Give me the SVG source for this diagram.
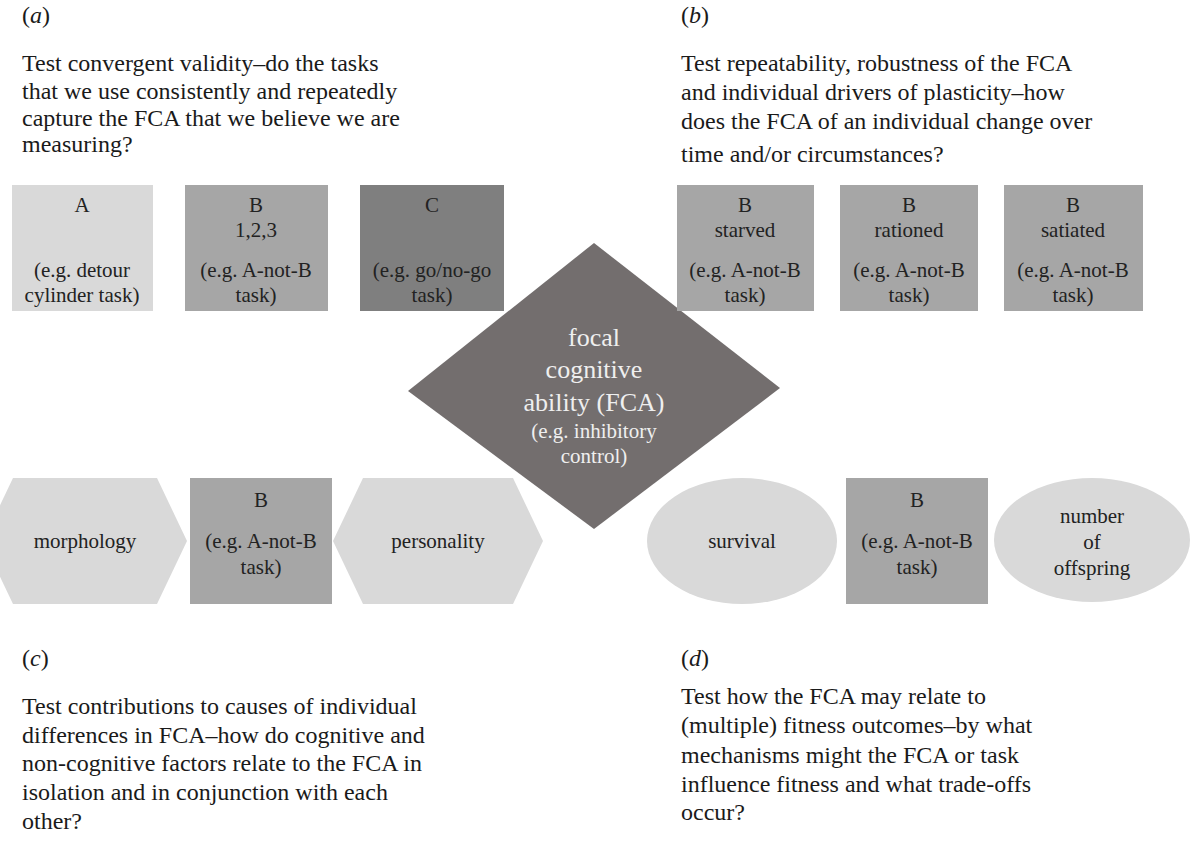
<svg xmlns="http://www.w3.org/2000/svg" width="1200" height="841" viewBox="0 0 1200 841">
<style>
text{font-family:"Liberation Serif","Times New Roman",serif;}
.hd{font-size:24px;fill:#1a1a1a;}
.lb{font-size:24px;fill:#1a1a1a;}
.bx{font-size:21px;fill:#222;text-anchor:middle;}
.dt{fill:#efefef;text-anchor:middle;}
.light{fill:#d9d9d9;}
.mid{fill:#a6a6a6;}
.dark{fill:#7f7f7f;}
</style>
<rect width="1200" height="841" fill="#ffffff"/>
<g id="connectors"></g>
<g id="fca">
<polygon points="408,391 594,243 780,388 594,529" fill="#736e6e"/>
<text class="dt" x="594" y="346" font-size="26">focal</text>
<text class="dt" x="594" y="378" font-size="26">cognitive</text>
<text class="dt" x="594" y="411" font-size="26">ability (FCA)</text>
<text class="dt" x="594" y="438" font-size="21">(e.g. inhibitory</text>
<text class="dt" x="594" y="463" font-size="21">control)</text>
</g>
<g id="label-a">
<text class="lb" x="22" y="23">(<tspan font-style="italic">a</tspan>)</text>
<text class="hd" x="22" y="71">Test convergent validity–do the tasks</text>
<text class="hd" x="22" y="99">that we use consistently and repeatedly</text>
<text class="hd" x="22" y="126">capture the FCA that we believe we are</text>
<text class="hd" x="22" y="152">measuring?</text>
</g>
<g id="label-b">
<text class="lb" x="681" y="23">(<tspan font-style="italic">b</tspan>)</text>
<text class="hd" x="681" y="71">Test repeatability, robustness of the FCA</text>
<text class="hd" x="681" y="100">and individual drivers of plasticity–how</text>
<text class="hd" x="681" y="129">does the FCA of an individual change over</text>
<text class="hd" x="681" y="162">time and/or circumstances?</text>
</g>
<g id="box-a">
<rect class="light" x="12" y="185" width="141" height="126"/>
<text class="bx" x="82" y="212">A</text>
<text class="bx" x="82" y="277">(e.g. detour</text>
<text class="bx" x="82" y="302">cylinder task)</text>
</g>
<g id="box-b123">
<rect class="mid" x="185" y="185" width="143" height="126"/>
<text class="bx" x="256" y="212">B</text>
<text class="bx" x="256" y="237">1,2,3</text>
<text class="bx" x="256" y="277">(e.g. A-not-B</text>
<text class="bx" x="256" y="302">task)</text>
</g>
<g id="box-c">
<rect class="dark" x="360" y="185" width="144" height="126"/>
<text class="bx" x="432" y="212">C</text>
<text class="bx" x="432" y="277">(e.g. go/no-go</text>
<text class="bx" x="432" y="302">task)</text>
</g>
<g id="box-starved">
<rect class="mid" x="677" y="185" width="137" height="126"/>
<text class="bx" x="745" y="212">B</text>
<text class="bx" x="745" y="237">starved</text>
<text class="bx" x="745" y="277">(e.g. A-not-B</text>
<text class="bx" x="745" y="302">task)</text>
</g>
<g id="box-rationed">
<rect class="mid" x="840" y="185" width="138" height="126"/>
<text class="bx" x="909" y="212">B</text>
<text class="bx" x="909" y="237">rationed</text>
<text class="bx" x="909" y="277">(e.g. A-not-B</text>
<text class="bx" x="909" y="302">task)</text>
</g>
<g id="box-satiated">
<rect class="mid" x="1004" y="185" width="139" height="126"/>
<text class="bx" x="1073" y="212">B</text>
<text class="bx" x="1073" y="237">satiated</text>
<text class="bx" x="1073" y="277">(e.g. A-not-B</text>
<text class="bx" x="1073" y="302">task)</text>
</g>
<g id="morphology">
<polygon class="light" points="-17,541 13,478 157,478 187,541 157,604 13,604"/>
<text class="bx" x="85" y="548">morphology</text>
</g>
<g id="box-b-left">
<rect class="mid" x="190" y="478" width="142" height="126"/>
<text class="bx" x="261" y="507">B</text>
<text class="bx" x="261" y="548">(e.g. A-not-B</text>
<text class="bx" x="261" y="574">task)</text>
</g>
<g id="personality">
<polygon class="light" points="333,541 363,478 513,478 543,541 513,604 363,604"/>
<text class="bx" x="438" y="548">personality</text>
</g>
<g id="survival">
<ellipse class="light" cx="742" cy="541" rx="95" ry="63"/>
<text class="bx" x="742" y="548">survival</text>
</g>
<g id="box-b-right">
<rect class="mid" x="846" y="478" width="142" height="126"/>
<text class="bx" x="917" y="507">B</text>
<text class="bx" x="917" y="548">(e.g. A-not-B</text>
<text class="bx" x="917" y="574">task)</text>
</g>
<g id="offspring">
<ellipse class="light" cx="1092" cy="540" rx="98" ry="62"/>
<text class="bx" x="1092" y="523">number</text>
<text class="bx" x="1092" y="549">of</text>
<text class="bx" x="1092" y="575">offspring</text>
</g>
<g id="label-c">
<text class="lb" x="22" y="666">(<tspan font-style="italic">c</tspan>)</text>
<text class="hd" x="22" y="714">Test contributions to causes of individual</text>
<text class="hd" x="22" y="743">differences in FCA–how do cognitive and</text>
<text class="hd" x="22" y="771">non-cognitive factors relate to the FCA in</text>
<text class="hd" x="22" y="800">isolation and in conjunction with each</text>
<text class="hd" x="22" y="829">other?</text>
</g>
<g id="label-d">
<text class="lb" x="681" y="666">(<tspan font-style="italic">d</tspan>)</text>
<text class="hd" x="681" y="704">Test how the FCA may relate to</text>
<text class="hd" x="681" y="733">(multiple) fitness outcomes–by what</text>
<text class="hd" x="681" y="763">mechanisms might the FCA or task</text>
<text class="hd" x="681" y="792">influence fitness and what trade-offs</text>
<text class="hd" x="681" y="820">occur?</text>
</g>
</svg>
